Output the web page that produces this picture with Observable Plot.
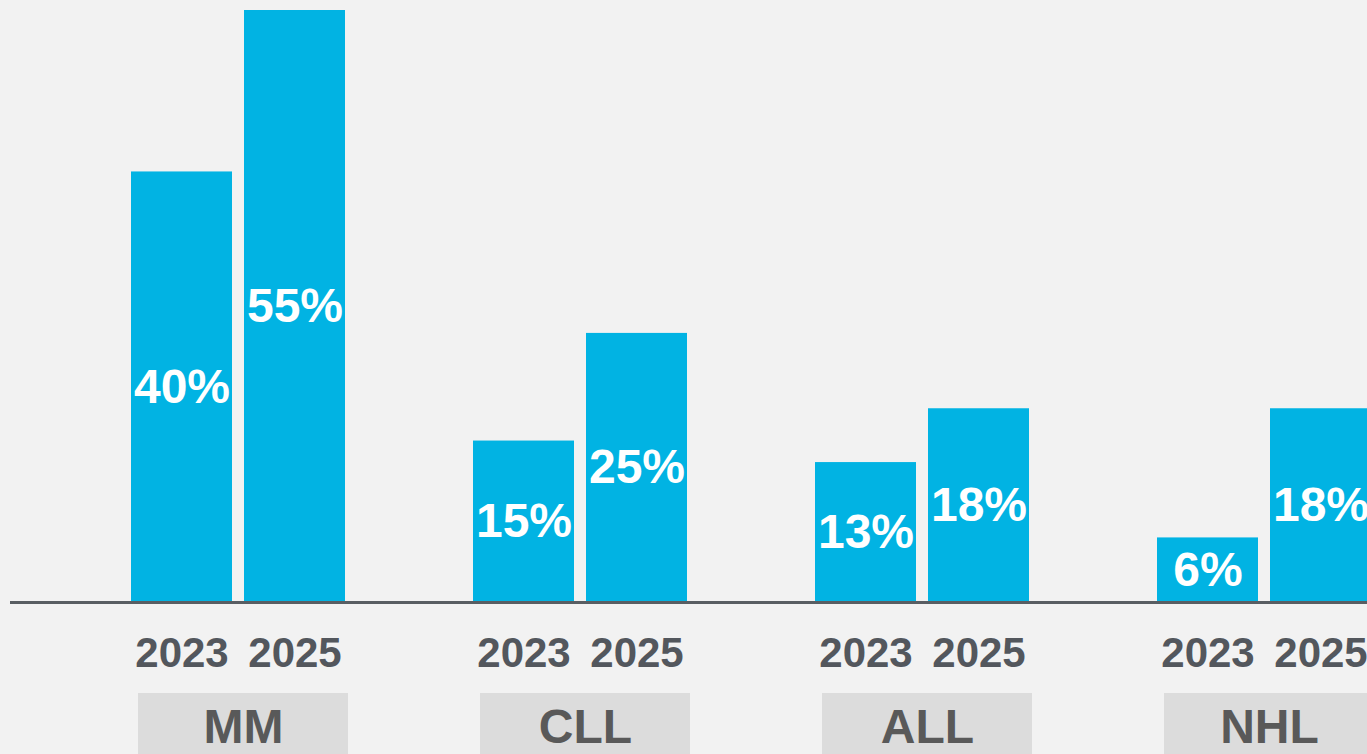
<!DOCTYPE html>
<html>
<head>
<meta charset="utf-8">
<script src="https://cdn.jsdelivr.net/npm/d3@7"></script>
<script src="https://cdn.jsdelivr.net/npm/@observablehq/plot@0.6"></script>
<style>
  html, body { margin: 0; padding: 0; background: #f2f2f2; overflow: hidden; }
  #chart svg { display: block; overflow: hidden; }
</style>
</head>
<body>
<div id="chart"></div>
<script>
const categories = ["MM", "CLL", "ALL", "NHL"];
const years = ["2023", "2025"];
const values2023 = [40, 15, 13, 6];
const values2025 = [55, 25, 18, 18];
const valueLabels2023 = ["40%", "15%", "13%", "6%"];
const valueLabels2025 = ["55%", "25%", "18%", "18%"];

const data = [];
categories.forEach((c, i) => {
  data.push({cat: c, year: years[0], value: values2023[i], label: valueLabels2023[i]});
  data.push({cat: c, year: years[1], value: values2025[i], label: valueLabels2025[i]});
});

const font = "'Liberation Sans', Arial, sans-serif";
const barColor = "#01b3e3";
const gray = "#53575d";

const chart = Plot.plot({
  width: 1367,
  height: 754,
  marginTop: 10,
  marginBottom: 152,
  marginLeft: 67,
  marginRight: 0,
  style: {background: "#f2f2f2", fontFamily: font, overflow: "hidden"},
  facet: {marginTop: 0, marginRight: 0, marginBottom: 0, marginLeft: 0},
  fx: {domain: categories, padding: 0, range: [67, 1435], axis: null},
  x: {domain: years, paddingInner: 0.105, paddingOuter: 0.5526, axis: null},
  y: {domain: [0, 55], axis: null},
  marks: [
    // category label boxes
    Plot.rect(categories, {fx: d => d, fill: "#dcdcdc", insetTop: 683, insetBottom: -160, insetLeft: 71, insetRight: 61}),
    Plot.text(categories, {fx: d => d, text: d => d, frameAnchor: "bottom", dx: 5, dy: 140, fontSize: 48, fontWeight: "bold", fill: "#595959"}),
    // bars
    Plot.barY(data, {fx: "cat", x: "year", y: "value", fill: barColor}),
    // value labels
    Plot.text(data, {fx: "cat", x: "year", y: d => d.value / 2, text: "label", fill: "white", fontSize: 48, fontWeight: "bold"}),
    // year labels
    Plot.text(data, {fx: "cat", x: "year", text: "year", frameAnchor: "bottom", dy: 64, fill: gray, fontSize: 42, fontWeight: "bold"}),
    // baseline
    Plot.ruleY([0], {stroke: "#595e63", strokeWidth: 3, insetLeft: -57})
  ]
});
document.getElementById("chart").append(chart);
</script>
</body>
</html>
